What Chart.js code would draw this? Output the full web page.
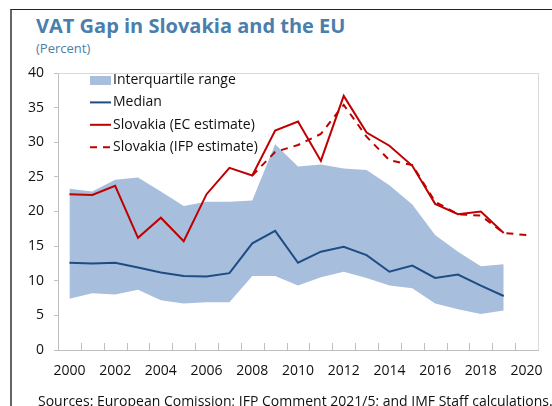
<!DOCTYPE html>
<html>
<head>
<meta charset="utf-8">
<script src="https://cdn.jsdelivr.net/npm/chart.js@4.4.1/dist/chart.umd.min.js"></script>
<style>
  body { margin: 0; background: #fff; }
  #wrap { position: relative; width: 552px; height: 406px; overflow: hidden; background: #fff; font-family: "Open Sans", sans-serif; }
  #frame { position: absolute; left: 10px; top: 9px; right: -5px; bottom: -5px; border-top: 1px solid #222; border-left: 2px solid #666; }
  #title { position: absolute; left: 36px; top: 12px; font-size: 20px; font-weight: bold; color: #4a7eac; white-space: nowrap; }
  #sub { position: absolute; left: 36px; top: 39px; font-size: 13px; color: #4a7eac; }
  #src { position: absolute; left: 38px; top: 391px; font-size: 14px; color: #111; white-space: nowrap; }
  canvas { position: absolute; left: 0; top: 0; }
</style>
</head>
<body>
<div id="wrap">
  <div id="frame"></div>
  <div id="title">VAT Gap in Slovakia and the EU</div>
  <div id="sub">(Percent)</div>
  <canvas id="myChart" width="552" height="406"></canvas>
  <div id="src">Sources: European Comission; IFP Comment 2021/5; and IMF Staff calculations.</div>
</div>
<script>
// data
const years = ["2000", "2001", "2002", "2003", "2004", "2005", "2006", "2007", "2008", "2009", "2010",
  "2011", "2012", "2013", "2014", "2015", "2016", "2017", "2018", "2019", "2020"];
const iqrLow = [7.4, 8.2, 8.0, 8.7, 7.2, 6.7, 6.9, 6.9, 10.7, 10.7, 9.3, 10.5, 11.3, 10.4, 9.3, 8.9, 6.7, 5.9, 5.2, 5.7, null];
const iqrHigh = [23.3, 22.9, 24.6, 24.9, 22.9, 20.8, 21.4, 21.4, 21.6, 29.7, 26.5, 26.8, 26.2, 26.0, 23.8, 21.0, 16.6, 14.2, 12.1, 12.4, null];
const median = [12.6, 12.5, 12.6, 11.9, 11.2, 10.7, 10.6, 11.1, 15.4, 17.2, 12.6, 14.2, 14.9, 13.7, 11.3, 12.2, 10.4, 10.9, 9.3, 7.8, null];
const slovakiaEC = [22.5, 22.4, 23.7, 16.2, 19.1, 15.7, 22.5, 26.3, 25.2, 31.7, 33.0, 27.3, 36.7, 31.4, 29.5, 26.6, 21.1, 19.6, 20.0, 16.9, null];
const slovakiaIFP = [null, null, null, null, null, null, null, null, 25.2, 28.6, 29.6, 31.2, 35.4, 30.8, 27.4, 26.7, 21.4, 19.6, 19.4, 16.9, 16.6];
const yTicks = [0, 5, 10, 15, 20, 25, 30, 35, 40];

const fillBlue = "#a7bfdc";
const medianBlue = "#1f4c84";
const red = "#c00000";

// legend drawn inside the plot, top left
const legendItems = [
  { label: "Interquartile range", kind: "box", color: fillBlue },
  { label: "Median", kind: "line", color: medianBlue, dash: [] },
  { label: "Slovakia (EC estimate)", kind: "line", color: red, dash: [] },
  { label: "Slovakia (IFP estimate)", kind: "line", color: red, dash: [7, 6] },
];

const decor = {
  id: "decor",
  afterDraw(chart) {
    const ctx = chart.ctx;
    const a = chart.chartArea;
    const xs = chart.scales.x;
    ctx.save();
    // light frame on top and right of plot
    ctx.strokeStyle = "#d9d9d9";
    ctx.lineWidth = 1;
    ctx.beginPath();
    ctx.moveTo(a.left, a.top + 0.5);
    ctx.lineTo(a.right + 0.5, a.top + 0.5);
    ctx.lineTo(a.right + 0.5, a.bottom);
    ctx.stroke();
    // small ticks pointing up, between the years
    const step = xs.getPixelForValue(1) - xs.getPixelForValue(0);
    ctx.strokeStyle = "#bfbfbf";
    ctx.beginPath();
    for (let i = 1; i < years.length; i++) {
      const x = Math.round(xs.getPixelForValue(i) - step / 2) + 0.5;
      ctx.moveTo(x, a.bottom);
      ctx.lineTo(x, a.bottom - 7);
    }
    ctx.stroke();
    // legend
    ctx.font = "14px 'Open Sans'";
    ctx.textBaseline = "middle";
    ctx.fillStyle = "#111";
    for (let i = 0; i < legendItems.length; i++) {
      const it = legendItems[i];
      const y = a.top + 7 + i * 22.4;
      const x0 = a.left + 32;
      if (it.kind === "box") {
        ctx.fillStyle = it.color;
        ctx.fillRect(x0, y - 4, 21, 9);
      } else {
        ctx.strokeStyle = it.color;
        ctx.lineWidth = 2;
        ctx.setLineDash(it.dash);
        ctx.beginPath();
        ctx.moveTo(x0, y);
        ctx.lineTo(x0 + 21, y);
        ctx.stroke();
        ctx.setLineDash([]);
      }
      ctx.fillStyle = "#111";
      ctx.fillText(it.label, x0 + 23, y);
    }
    ctx.restore();
  },
};

function renderChart() {
  const ctx = document.getElementById("myChart");

  new Chart(ctx, {
    type: "line",
    data: {
      labels: years,
      datasets: [
        { label: "Slovakia (EC estimate)", data: slovakiaEC, borderColor: red, borderWidth: 2, pointRadius: 0, fill: false },
        { label: "Slovakia (IFP estimate)", data: slovakiaIFP, borderColor: red, borderWidth: 2, borderDash: [7, 6], pointRadius: 0, fill: false },
        { label: "Median", data: median, borderColor: medianBlue, borderWidth: 2, pointRadius: 0, fill: false },
        { label: "Interquartile range", data: iqrHigh, borderWidth: 0, borderColor: "rgba(0,0,0,0)", backgroundColor: fillBlue, pointRadius: 0, fill: "+1" },
        { label: "iqr low", data: iqrLow, borderWidth: 0, borderColor: "rgba(0,0,0,0)", pointRadius: 0, fill: false },
      ],
    },
    options: {
      responsive: false,
      animation: false,
      layout: { padding: { top: 73, right: 14, left: 0, bottom: 0 } },
      plugins: {
        legend: { display: false },
        tooltip: { enabled: false },
      },
      scales: {
        x: {
          offset: true,
          grid: { display: false, offset: true },
          border: { color: "#bfbfbf", width: 1 },
          ticks: {
            autoSkip: false,
            maxRotation: 0,
            padding: 5,
            color: "#111",
            font: { family: "'Open Sans'", size: 14 },
            callback: function (v, i) { return i % 2 === 0 ? years[i] : ""; },
          },
          afterFit: function (s) { s.height = 56; },
        },
        y: {
          min: 0,
          max: 40,
          afterBuildTicks: function (s) { s.ticks = yTicks.map(function (v) { return { value: v }; }); },
          grid: { drawOnChartArea: false, tickLength: 4, color: "#bfbfbf" },
          border: { color: "#bfbfbf", width: 1 },
          ticks: { padding: 10, color: "#111", font: { family: "'Open Sans'", size: 14 } },
          afterFit: function (s) { s.width = 58; },
        },
      },
    },
    plugins: [decor],
  });
}

renderChart();
</script>
</body>
</html>
